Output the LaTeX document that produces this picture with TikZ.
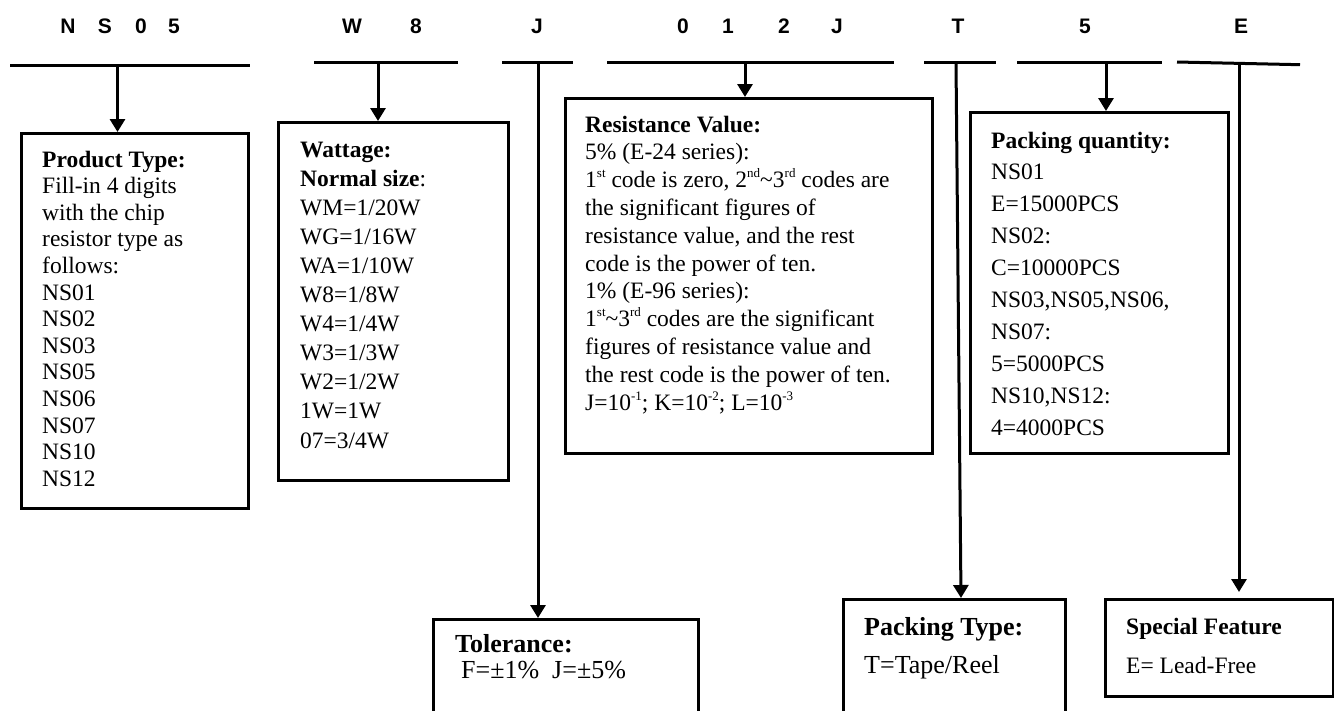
\documentclass[tikz,border=0pt]{standalone}
\usepackage{fontspec}
\setmainfont{Liberation Serif}
\setsansfont{Liberation Sans}
\usetikzlibrary{arrows.meta}
\newcommand\myl[1]{\hbox{#1}}
\newcommand\mylines[2]{\vtop{\baselineskip=#1\lineskiplimit=-100pt\lineskip=0pt\relax #2}}
\newcommand\mysup[1]{\raisebox{0.42em}{\fontsize{13}{13}\selectfont #1}}
\begin{document}
\begin{tikzpicture}[x=1pt,y=-1pt,
  box/.style={draw, line width=3.3pt, rectangle, inner sep=0pt, anchor=north west},
  uline/.style={line width=3pt},
  arr/.style={line width=3pt, -{Triangle[length=13pt,width=15pt]}},
  hdr/.style={font=\sffamily\bfseries\fontsize{21}{24}\selectfont, anchor=base, inner sep=0pt},
  txt/.style={anchor=base west, inner sep=0pt, font=\fontsize{23.5}{26.7}\selectfont},
  btxt/.style={anchor=base west, inner sep=0pt, font=\fontsize{26}{30}\selectfont}]
\useasboundingbox (0,0) rectangle (1334,710);
\fill[white] (0,0) rectangle (1334,710);
\clip (0,0) rectangle (1334,710);

% header letters
\node[hdr] (h1) at (68,33) {N};
\node[hdr] (h2) at (105,33) {S};
\node[hdr] (h3) at (141,33) {0};
\node[hdr] (h4) at (174,33) {5};
\node[hdr] (h5) at (352,33) {W};
\node[hdr] (h6) at (416,33) {8};
\node[hdr] (h7) at (537,33) {J};
\node[hdr] (h8) at (683,33) {0};
\node[hdr] (h9) at (728,33) {1};
\node[hdr] (h10) at (784,33) {2};
\node[hdr] (h11) at (837,33) {J};
\node[hdr] (h12) at (958,33) {T};
\node[hdr] (h13) at (1085,33) {5};
\node[hdr] (h14) at (1241,33) {E};

% underlines
\draw[uline] (10,65.7) -- (250,65.7);
\draw[uline] (314,62.7) -- (458,62.7);
\draw[uline] (502,62.7) -- (573,62.7);
\draw[uline] (607,62.5) -- (894,62.5);
\draw[uline] (924,62) -- (996,62);
\draw[uline] (1017,62) -- (1162,62);
\draw[uline] (1177,62) -- (1300,64.7);

\coordinate (a1) at (117.5,65.7);
\coordinate (a2) at (378,62.7);
\coordinate (a3) at (538,62.7);
\coordinate (a4) at (745,62.5);
\coordinate (a5) at (956,62);
\coordinate (a5e) at (961,62);
\coordinate (a6) at (1106,62);
\coordinate (a7) at (1239,63.8);

% boxes
\node[box, minimum width=227pt, minimum height=375pt] (b1) at (20,132) {};
\node[box, minimum width=230pt, minimum height=358pt] (b2) at (277,121) {};
\node[box, minimum width=367pt, minimum height=355pt] (b3) at (564,97) {};
\node[box, minimum width=258pt, minimum height=341pt] (b4) at (969,111) {};
\node[box, minimum width=265pt, minimum height=120pt] (b5) at (432,618) {};
\node[box, minimum width=222pt, minimum height=130pt] (b6) at (842,598) {};
\node[box, minimum width=228pt, minimum height=97pt] (b7) at (1104,598) {};

% arrows
\draw[arr] (a1) -- (a1 |- b1.north);
\draw[arr] (a2) -- (a2 |- b2.north);
\draw[arr] (a3) -- (a3 |- b5.north);
\draw[arr] (a4) -- (a4 |- b3.north);
\draw[arr] (a5) -- (a5e |- b6.north);
\draw[arr] (a6) -- (a6 |- b4.north);
\draw[arr] (a7) -- ([yshift=6pt]a7 |- b7.north);

% texts
\node[txt] (t1) at (42,167) {\mylines{26.6pt}{%
\myl{\textbf{Product Type:}}\myl{Fill-in 4 digits}\myl{with the chip}\myl{resistor type as}\myl{follows:}%
\myl{NS01}\myl{NS02}\myl{NS03}\myl{NS05}\myl{NS06}\myl{NS07}\myl{NS10}\myl{NS12}}};

\node[txt] (t2) at (300,157) {\mylines{29.1pt}{%
\myl{\textbf{Wattage:}}\myl{\textbf{Normal size}:}\myl{WM=1/20W}\myl{WG=1/16W}\myl{WA=1/10W}%
\myl{W8=1/8W}\myl{W4=1/4W}\myl{W3=1/3W}\myl{W2=1/2W}\myl{1W=1W}\myl{07=3/4W}}};

\node[txt] (t3) at (585,132) {\mylines{27.8pt}{%
\myl{\textbf{Resistance Value:}}%
\myl{5\% (E-24 series):}%
\myl{1\mysup{st} code is zero, 2\mysup{nd}\textasciitilde3\mysup{rd} codes are}%
\myl{the significant figures of}%
\myl{resistance value, and the rest}%
\myl{code is the power of ten.}%
\myl{1\% (E-96 series):}%
\myl{1\mysup{st}\textasciitilde3\mysup{rd} codes are the significant}%
\myl{figures of resistance value and}%
\myl{the rest code is the power of ten.}%
\myl{J=10\mysup{-1}; K=10\mysup{-2}; L=10\mysup{-3}}}};

\node[txt] (t4) at (991,148) {\mylines{31.9pt}{%
\myl{\textbf{Packing quantity:}}\myl{NS01}\myl{E=15000PCS}\myl{NS02:}\myl{C=10000PCS}%
\myl{NS03,NS05,NS06,}\myl{NS07:}\myl{5=5000PCS}\myl{NS10,NS12:}\myl{4=4000PCS}}};

\node[btxt] (t5) at (455,652) {\mylines{26pt}{%
\myl{\textbf{Tolerance:}}\myl{\hspace{6pt}F=±1\%\ \ J=±5\%}}};

\node[btxt] (t6) at (864,635) {\mylines{38pt}{%
\myl{\textbf{Packing Type:}}\myl{T=Tape/Reel}}};

\node[txt] (t7) at (1126,634) {\mylines{39pt}{%
\myl{\textbf{Special Feature}}\myl{E= Lead-Free}}};
\end{tikzpicture}
\end{document}
